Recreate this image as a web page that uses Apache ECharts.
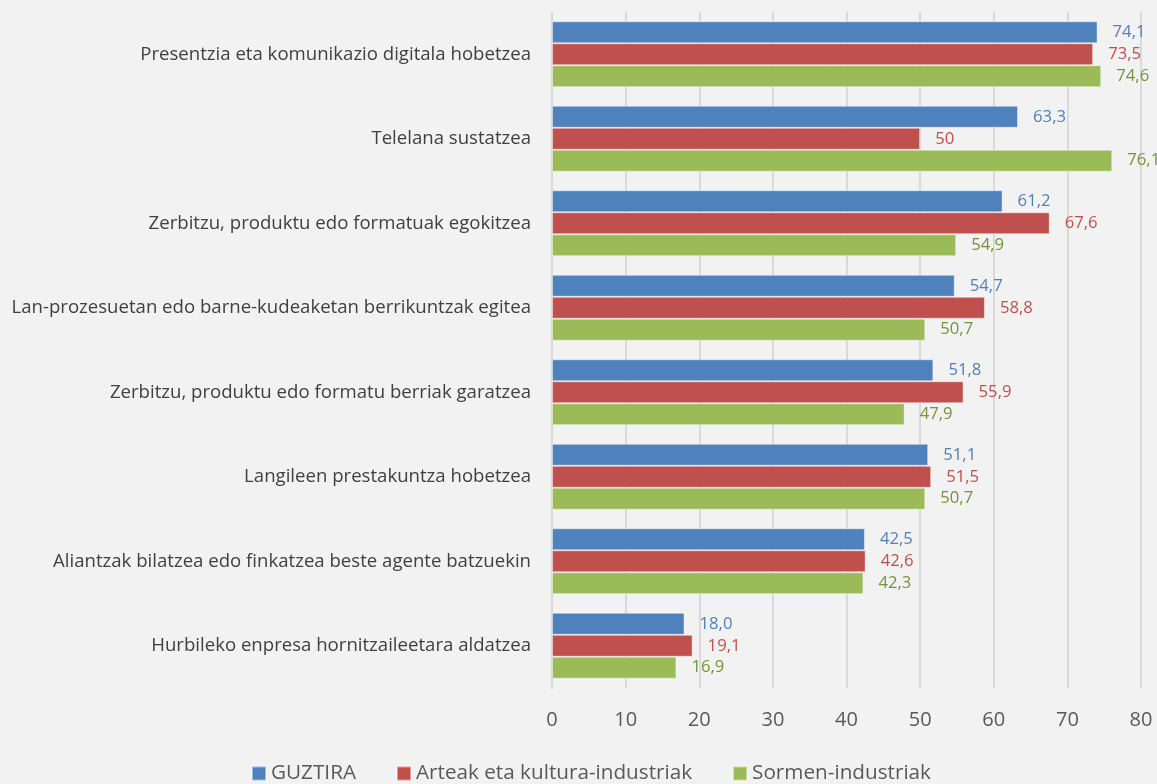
<!DOCTYPE html>
<html>
<head>
<meta charset="utf-8">
<script src="https://cdn.jsdelivr.net/npm/echarts@6/dist/echarts.min.js"></script>
<style>
  html, body { margin: 0; padding: 0; background: #f2f2f2; }
  #chart { width: 1157px; height: 784px; }
</style>
</head>
<body>
<div id="chart"></div>
<script>
  var categories = [
    'Presentzia eta komunikazio digitala hobetzea',
    'Telelana sustatzea',
    'Zerbitzu, produktu edo formatuak egokitzea',
    'Lan-prozesuetan edo barne-kudeaketan berrikuntzak egitea',
    'Zerbitzu, produktu edo formatu berriak garatzea',
    'Langileen prestakuntza hobetzea',
    'Aliantzak bilatzea edo finkatzea beste agente batzuekin',
    'Hurbileko enpresa hornitzaileetara aldatzea'
  ];
  var guztira = [74.1, 63.3, 61.2, 54.7, 51.8, 51.1, 42.5, 18.0];
  var arteak = [73.5, 50, 67.6, 58.8, 55.9, 51.5, 42.6, 19.1];
  var sormen = [74.6, 76.1, 54.9, 50.7, 47.9, 50.7, 42.3, 16.9];
  var seriesNames = ['GUZTIRA', 'Arteak eta kultura-industriak', 'Sormen-industriak'];
  var xTicks = [0, 10, 20, 30, 40, 50, 60, 70, 80];

  var font = 'Open Sans';

  function makeSeries(name, data, color, labelColor, fixed) {
    return {
      name: name,
      type: 'bar',
      data: data,
      barGap: '0%',
      barCategoryGap: '22%',
      itemStyle: { color: color, borderColor: 'rgba(255,255,255,0.45)', borderWidth: 1 },
      label: {
        show: true,
        position: 'right',
        distance: 15,
        color: labelColor,
        fontFamily: font,
        fontSize: 16.7,
        formatter: function (p) {
          var s = fixed ? p.value.toFixed(1) : String(p.value);
          return s.replace('.', ',');
        }
      }
    };
  }

  var chart = echarts.init(document.getElementById('chart'));
  chart.setOption({
    backgroundColor: '#f2f2f2',
    animation: false,
    textStyle: { fontFamily: font },
    grid: { left: 552, right: 16, top: 12, bottom: 96, containLabel: false },
    legend: {
      top: 758,
      left: 246,
      itemWidth: 14,
      itemHeight: 14,
      itemGap: 40,
      icon: 'rect',
      textStyle: { fontFamily: font, fontSize: 20.7, color: '#595959' },
      data: seriesNames
    },
    xAxis: {
      type: 'value',
      min: xTicks[0],
      max: xTicks[xTicks.length - 1],
      interval: 10,
      axisLine: { show: false },
      axisTick: { show: false },
      splitLine: { lineStyle: { color: '#d9d9d9', width: 2 } },
      axisLabel: { fontFamily: font, fontSize: 20, color: '#595959', margin: 22 }
    },
    yAxis: {
      type: 'category',
      inverse: true,
      data: categories,
      axisLine: { lineStyle: { color: '#d9d9d9', width: 2 } },
      axisTick: { show: false },
      axisLabel: { fontFamily: font, fontSize: 18.6, color: '#404040', margin: 21 }
    },
    series: [
      makeSeries(seriesNames[0], guztira, '#4f81bd', '#4f81bd', true),
      makeSeries(seriesNames[1], arteak, '#c0504d', '#c0504d', false),
      makeSeries(seriesNames[2], sormen, '#9bbb59', '#77933c', true)
    ]
  });
</script>
</body>
</html>
